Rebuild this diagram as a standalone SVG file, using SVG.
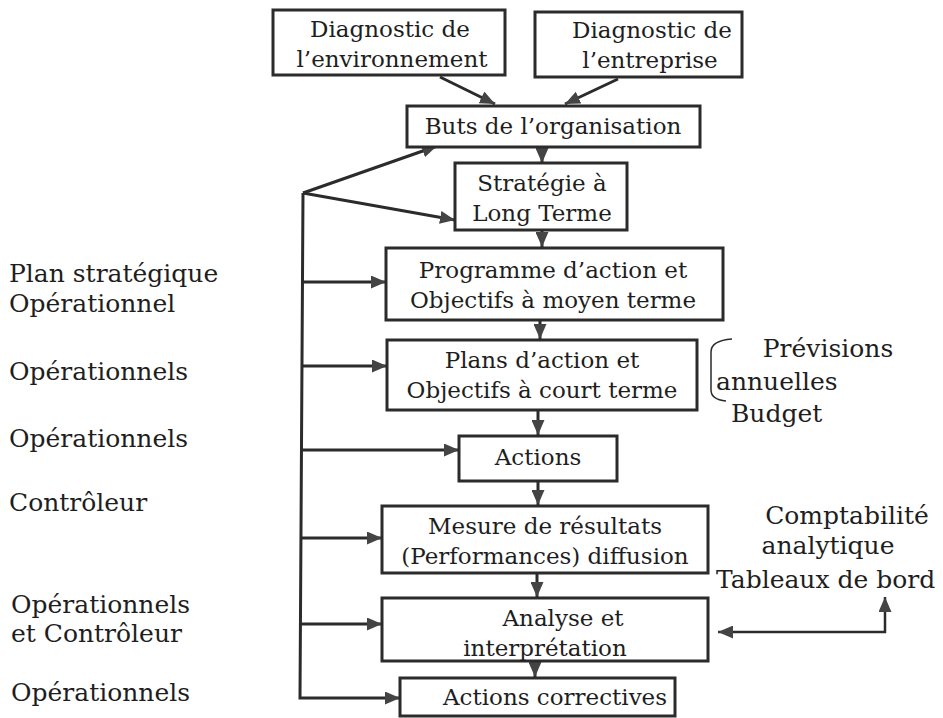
<svg xmlns="http://www.w3.org/2000/svg" width="943" height="718" viewBox="0 0 943 718">
<style>
.box{fill:#fff;stroke:#2b2b2b;stroke-width:3}
.t{font-family:"DejaVu Serif","Liberation Serif",serif;font-size:23px;fill:#1e1e1e;text-anchor:middle}
.s{font-family:"DejaVu Serif","Liberation Serif",serif;font-size:25px;fill:#1e1e1e}
.c{fill:none;stroke:#2b2b2b;stroke-width:3}
</style>
<defs>
<marker id="ah" viewBox="0 0 15 13" refX="15" refY="6.5" markerWidth="15" markerHeight="13" markerUnits="userSpaceOnUse" orient="auto-start-reverse">
<path d="M0,0 L15,6.5 L0,13 z" fill="#444"/>
</marker>
</defs>
<rect width="943" height="718" fill="#fff"/>
<g id="connectors">
<line class="c" x1="440" y1="77" x2="495" y2="104" marker-end="url(#ah)"/>
<line class="c" x1="618" y1="79" x2="565" y2="104" marker-end="url(#ah)"/>
<line class="c" x1="542" y1="148" x2="542" y2="163" marker-end="url(#ah)"/>
<line class="c" x1="542" y1="231" x2="542" y2="247" marker-end="url(#ah)"/>
<line class="c" x1="540" y1="321" x2="540" y2="339" marker-end="url(#ah)"/>
<line class="c" x1="538" y1="411" x2="538" y2="435" marker-end="url(#ah)"/>
<line class="c" x1="538" y1="482" x2="538" y2="505" marker-end="url(#ah)"/>
<line class="c" x1="537" y1="574" x2="537" y2="597" marker-end="url(#ah)"/>
<line class="c" x1="535" y1="652" x2="535" y2="677" marker-end="url(#ah)"/>
<line class="c" x1="303" y1="193" x2="437" y2="146" marker-end="url(#ah)"/>
<line class="c" x1="303" y1="193" x2="455" y2="220" marker-end="url(#ah)"/>
<path class="c" d="M303,193 L300,698 L400,698" marker-end="url(#ah)"/>
<line class="c" x1="302" y1="282" x2="386" y2="282" marker-end="url(#ah)"/>
<line class="c" x1="302" y1="366" x2="387" y2="366" marker-end="url(#ah)"/>
<line class="c" x1="301" y1="450" x2="459" y2="450" marker-end="url(#ah)"/>
<line class="c" x1="301" y1="538" x2="382" y2="538" marker-end="url(#ah)"/>
<line class="c" x1="300" y1="624" x2="382" y2="624" marker-end="url(#ah)"/>
<path class="c" style="stroke-width:2.5" d="M718,632 H885 V597" marker-start="url(#ah)" marker-end="url(#ah)"/>
</g>
<g id="n-env">
<rect class="box" x="273" y="10" width="232" height="65"/>
<text class="t" x="390" y="37">Diagnostic de</text>
<text class="t" x="392" y="67">l’environnement</text>
</g>
<g id="n-ent">
<rect class="box" x="535" y="12" width="207" height="65"/>
<text class="t" x="652" y="38">Diagnostic de</text>
<text class="t" x="650" y="68">l’entreprise</text>
</g>
<g id="n-buts">
<rect class="box" x="407" y="106" width="293" height="41"/>
<text class="t" x="553" y="134">Buts de l’organisation</text>
</g>
<g id="n-strat">
<rect class="box" x="455" y="163" width="172" height="67"/>
<text class="t" x="542" y="191">Stratégie à</text>
<text class="t" x="542" y="221">Long Terme</text>
</g>
<g id="n-prog">
<rect class="box" x="386" y="248" width="337" height="72"/>
<text class="t" x="553" y="278">Programme d’action et</text>
<text class="t" x="553" y="308">Objectifs à moyen terme</text>
</g>
<g id="n-plans">
<rect class="box" x="387" y="340" width="310" height="70"/>
<text class="t" x="542" y="368">Plans d’action et</text>
<text class="t" x="542" y="398">Objectifs à court terme</text>
</g>
<g id="n-actions">
<rect class="box" x="459" y="436" width="158" height="45"/>
<text class="t" x="538" y="465">Actions</text>
</g>
<g id="n-mesure">
<rect class="box" x="382" y="506" width="326" height="67"/>
<text class="t" x="545" y="534">Mesure de résultats</text>
<text class="t" x="545" y="564">(Performances) diffusion</text>
</g>
<g id="n-analyse">
<rect class="box" x="382" y="598" width="326" height="63"/>
<text class="t" x="563" y="626">Analyse et</text>
<text class="t" x="545" y="656">interprétation</text>
</g>
<g id="n-correct">
<rect class="box" x="400" y="678" width="275" height="38"/>
<text class="t" x="555" y="705">Actions correctives</text>
</g>
<g id="brace">
<path d="M732,339 C718,340 711,344 711,352 L711,390 C711,396 716,400 726,401" fill="none" stroke="#2b2b2b" stroke-width="1.5"/>
</g>
<g id="right-labels">
<text class="s" x="828" y="357" text-anchor="middle">Prévisions</text>
<text class="s" x="716" y="390">annuelles</text>
<text class="s" x="731" y="422">Budget</text>
<text class="s" x="847" y="524" text-anchor="middle">Comptabilité</text>
<text class="s" x="828" y="554" text-anchor="middle">analytique</text>
<text class="s" x="716" y="588">Tableaux de bord</text>
</g>
<g id="left-labels">
<text class="s" x="9" y="282">Plan stratégique</text>
<text class="s" x="9" y="312">Opérationnel</text>
<text class="s" x="9" y="380">Opérationnels</text>
<text class="s" x="9" y="447">Opérationnels</text>
<text class="s" x="9" y="511">Contrôleur</text>
<text class="s" x="11" y="613">Opérationnels</text>
<text class="s" x="11" y="642">et Contrôleur</text>
<text class="s" x="11" y="701">Opérationnels</text>
</g>
</svg>
